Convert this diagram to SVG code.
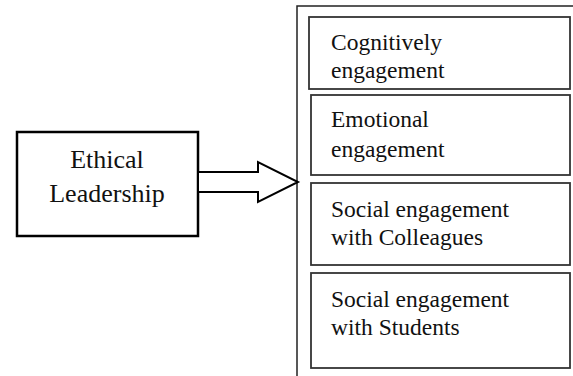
<svg xmlns="http://www.w3.org/2000/svg" width="573" height="376" viewBox="0 0 573 376">
  <style>
    .lbl { font-family: "Liberation Serif", "Times New Roman", serif; fill: #111; }
    .main { font-size: 26px; }
    .item { font-size: 23.5px; }
    .outer { fill: none; stroke: #222; stroke-width: 1.5; }
    .inner { fill: #fff; stroke: #333; stroke-width: 1.8; }
    .source { fill: #fff; stroke: #000; stroke-width: 2.5; }
    .arrow { fill: #fff; stroke: #000; stroke-width: 2; stroke-linejoin: miter; }
  </style>

  <!-- container around the engagement dimensions -->
  <rect class="outer" x="297" y="6" width="290" height="380"/>

  <g id="ethical-leadership">
    <rect class="source" x="17" y="132" width="181" height="104"/>
    <text class="lbl main" x="107" y="168" text-anchor="middle">Ethical</text>
    <text class="lbl main" x="107" y="202" text-anchor="middle">Leadership</text>
  </g>

  <g id="connectors">
    <polygon class="arrow" points="198,172 258,172 258,162 298,182 258,202 258,192 198,192"/>
  </g>

  <g id="cognitive">
    <rect class="inner" x="309" y="17" width="261" height="72"/>
    <text class="lbl item" x="331" y="50">Cognitively</text>
    <text class="lbl item" x="331" y="78">engagement</text>
  </g>

  <g id="emotional">
    <rect class="inner" x="311" y="95" width="259" height="80"/>
    <text class="lbl item" x="331" y="127">Emotional</text>
    <text class="lbl item" x="331" y="157">engagement</text>
  </g>

  <g id="social-colleagues">
    <rect class="inner" x="311" y="183" width="259" height="82"/>
    <text class="lbl item" x="331" y="217">Social engagement</text>
    <text class="lbl item" x="331" y="245">with Colleagues</text>
  </g>

  <g id="social-students">
    <rect class="inner" x="311" y="273" width="259" height="95"/>
    <text class="lbl item" x="331" y="307">Social engagement</text>
    <text class="lbl item" x="331" y="335">with Students</text>
  </g>
</svg>
